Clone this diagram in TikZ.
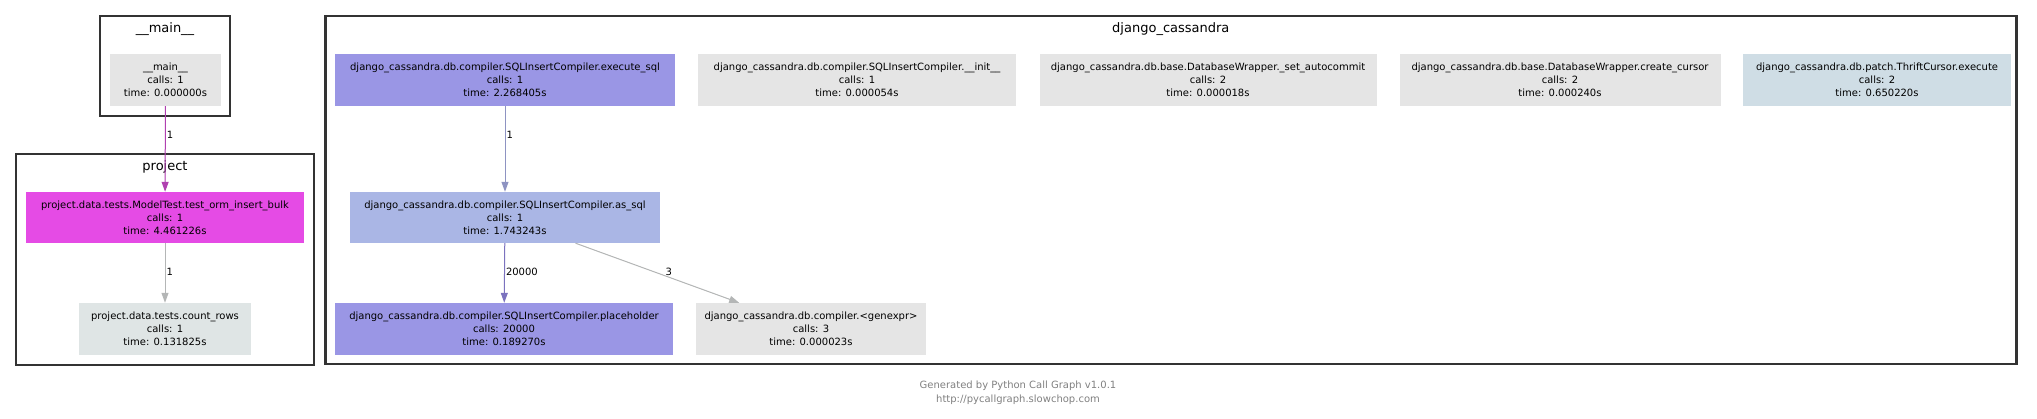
\documentclass[tikz,border=0pt]{standalone}
\usepackage{fontspec}
\setmainfont{DejaVu Sans}
\usetikzlibrary{arrows.meta,calc}

\definecolor{nodegray}{HTML}{E5E5E5}
\definecolor{rowsgray}{HTML}{DFE5E5}
\definecolor{bulkpink}{HTML}{E54BE5}
\definecolor{exeblue}{HTML}{9A96E5}
\definecolor{asqlblue}{HTML}{AAB6E5}
\definecolor{thriftblue}{HTML}{CFDDE5}
\definecolor{pinkedge}{HTML}{B040B0}
\definecolor{grayedge}{HTML}{B4B6B6}
\definecolor{blueedge}{HTML}{8E93C2}
\definecolor{purpleedge}{HTML}{7B72BE}

\begin{document}
\begin{tikzpicture}[x=1pt,y=-1pt]

  \tikzstyle{cluster}=[draw=black!80, line width=2.5pt, inner sep=0pt]
  \tikzstyle{title}=[font=\fontsize{13}{15}\selectfont, inner sep=0pt]
  \tikzstyle{func}=[inner sep=0pt, align=center, font=\fontsize{10}{13}\selectfont, minimum height=52pt]
  \tikzstyle{connection}=[line width=1pt, -{Triangle[length=10pt,width=7pt]}]
  \tikzstyle{count}=[font=\fontsize{10}{12}\selectfont, inner sep=1pt, anchor=west, text=black]

  \useasboundingbox (0,0) rectangle (2037,419);

  % clusters
  \node [cluster,minimum width=130pt,minimum height=100pt] (CM) at (165,66) {};
  \node [title] (TM) at (165,29) {\_\_main\_\_};
  \node [cluster,minimum width=298pt,minimum height=211pt] (CP) at (165,259.5) {};
  \node [title] (TP) at (165,167) {project};
  \node [cluster,minimum width=1691pt,minimum height=348pt] (CD) at (1170.8,190) {};
  \node [title] (TD) at (1170.8,29) {django\_cassandra};

  % functions
  \node [func,fill=nodegray,minimum width=111pt] (M) at (165.5,80) {\_\_main\_\_\\calls: 1\\time: 0.000000s};
  \node [func,fill=bulkpink,minimum width=278pt,minimum height=51pt] (B) at (165,217.5) {project.data.tests.ModelTest.test\_orm\_insert\_bulk\\calls: 1\\time: 4.461226s};
  \node [func,fill=rowsgray,minimum width=172pt] (R) at (165,329) {project.data.tests.count\_rows\\calls: 1\\time: 0.131825s};

  \node [func,fill=exeblue,minimum width=340pt] (E) at (505,80) {django\_cassandra.db.compiler.SQLInsertCompiler.execute\_sql\\calls: 1\\time: 2.268405s};
  \node [func,fill=nodegray,minimum width=318pt] (I) at (857,80) {django\_cassandra.db.compiler.SQLInsertCompiler.\_\_init\_\_\\calls: 1\\time: 0.000054s};
  \node [func,fill=nodegray,minimum width=337pt] (A) at (1208,80) {django\_cassandra.db.base.DatabaseWrapper.\_set\_autocommit\\calls: 2\\time: 0.000018s};
  \node [func,fill=nodegray,minimum width=321pt] (C) at (1560,80) {django\_cassandra.db.base.DatabaseWrapper.create\_cursor\\calls: 2\\time: 0.000240s};
  \node [func,fill=thriftblue,minimum width=268pt] (T) at (1877,80) {django\_cassandra.db.patch.ThriftCursor.execute\\calls: 2\\time: 0.650220s};
  \node [func,fill=asqlblue,minimum width=310pt,minimum height=51pt] (S) at (505,217.5) {django\_cassandra.db.compiler.SQLInsertCompiler.as\_sql\\calls: 1\\time: 1.743243s};
  \node [func,fill=exeblue,minimum width=338pt] (H) at (504,329) {django\_cassandra.db.compiler.SQLInsertCompiler.placeholder\\calls: 20000\\time: 0.189270s};
  \node [func,fill=nodegray,minimum width=230pt] (G) at (811,329) {django\_cassandra.db.compiler.<genexpr>\\calls: 3\\time: 0.000023s};

  % calls
  \draw [connection,draw=pinkedge,fill=pinkedge] (M) -- node [count,pos=0.34] {1} (B);
  \draw [connection,draw=grayedge,fill=grayedge] (B) -- node [count,pos=0.48] {1} (R);
  \draw [connection,draw=blueedge,fill=blueedge] (E) -- node [count,pos=0.34] {1} (S);
  \draw [connection,draw=purpleedge,fill=purpleedge] (S) -- node [count,pos=0.48] {20000} (H);
  \draw [connection,draw=grayedge,fill=grayedge] (S) -- node [count,pos=0.48,xshift=10pt] {3} (G);

  % footer
  \node [font=\fontsize{10}{14}\selectfont, text=black!50, align=center] (F) at (1018,393) {Generated by Python Call Graph v1.0.1\\http://pycallgraph.slowchop.com};
\end{tikzpicture}
\end{document}
